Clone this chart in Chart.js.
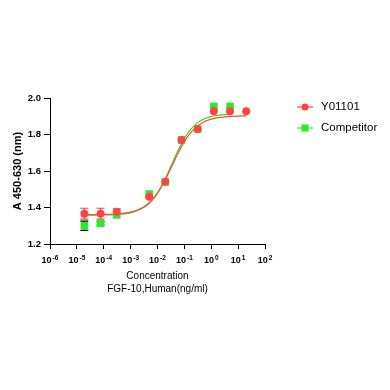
<!DOCTYPE html>
<html>
<head>
<meta charset="utf-8">
<script src="https://cdn.jsdelivr.net/npm/chart.js@4.4.1/dist/chart.umd.min.js"></script>
<style>
  html, body { margin: 0; padding: 0; background: #ffffff; }
  #wrap { width: 390px; height: 390px; }
</style>
</head>
<body>
<div id="wrap"><canvas id="curveChart" width="390" height="390"></canvas></div>
<script>
// ===================================
// DATA
// ===================================

// Concentrations (ng/ml) of the measured points
const CONCENTRATIONS = [1.9e-5, 7.6e-5, 3.05e-4, 4.88e-3, 0.0195, 0.078, 0.3125, 1.25, 5, 20];

// Y01101 measured absorbance and error bar half-heights
const Y01101_VALUES = [1.366, 1.366, 1.377, 1.459, 1.541, 1.770, 1.830, 1.927, 1.927, 1.927];
const Y01101_ERRORS = [0.030, 0.030, 0.015, 0, 0, 0, 0, 0, 0, 0];

// Competitor measured absorbance (no 20 ng/ml point)
const COMPETITOR_VALUES = [1.300, 1.313, 1.359, 1.474, 1.541, 1.770, 1.830, 1.954, 1.954];
const COMPETITOR_ERRORS = [0.025, 0.010, 0, 0, 0, 0, 0, 0, 0];

// Fitted curves, read at log10(concentration) positions
const FIT_LOG_X = [-4.7, -4.5, -4.25, -4, -3.75, -3.5, -3.25, -3, -2.75, -2.5, -2.25, -2,
                   -1.75, -1.5, -1.25, -1, -0.75, -0.5, -0.25, 0, 0.25, 0.5, 0.69, 1, 1.3];
const Y01101_FIT = [1.360, 1.361, 1.361, 1.362, 1.363, 1.365, 1.369, 1.375, 1.386, 1.404, 1.434, 1.479,
                    1.541, 1.616, 1.693, 1.761, 1.813, 1.848, 1.871, 1.884, 1.892, 1.897, 1.899, 1.901, 1.902];
const COMPETITOR_FIT = [1.358, 1.358, 1.359, 1.359, 1.360, 1.362, 1.365, 1.371, 1.382, 1.401, 1.431, 1.479,
                        1.545, 1.626, 1.708, 1.779, 1.831, 1.865, 1.886, 1.899, 1.905, 1.909, 1.911];

// Axis ticks
const X_TICK_EXPONENTS = [-6, -5, -4, -3, -2, -1, 0, 1, 2];
const Y_TICKS = [1.2, 1.4, 1.6, 1.8, 2.0];

const RED = '#ff4444';
const GREEN = '#22ee22';
const FONT = 'Liberation Sans, Arial, sans-serif';

function points(xs, ys) {
    return ys.map((y, i) => ({ x: xs[i], y: y }));
}

// ===================================
// Error bars (drawn below the markers)
// ===================================
const errorBarPlugin = {
    id: 'errorBars',
    beforeDatasetsDraw(chart) {
        const ctx = chart.ctx;
        const xs = chart.scales.x;
        const ys = chart.scales.y;
        const sets = [
            { vals: COMPETITOR_VALUES, errs: COMPETITOR_ERRORS, color: '#000000' },
            { vals: Y01101_VALUES, errs: Y01101_ERRORS, color: RED }
        ];
        ctx.save();
        ctx.lineWidth = 1.2;
        sets.forEach(s => {
            ctx.strokeStyle = s.color;
            s.vals.forEach((v, i) => {
                const e = s.errs[i];
                if (!e) return;
                const px = xs.getPixelForValue(CONCENTRATIONS[i]);
                const top = ys.getPixelForValue(v + e);
                const bot = ys.getPixelForValue(v - e);
                ctx.beginPath();
                ctx.moveTo(px, top); ctx.lineTo(px, bot);
                ctx.moveTo(px - 4, top); ctx.lineTo(px + 4, top);
                ctx.moveTo(px - 4, bot); ctx.lineTo(px + 4, bot);
                ctx.stroke();
            });
        });
        ctx.restore();
    }
};

// ===================================
// X tick labels as 10 with superscript
// ===================================
const powerLabelPlugin = {
    id: 'powerLabels',
    afterDraw(chart) {
        const ctx = chart.ctx;
        const xs = chart.scales.x;
        const baseY = chart.chartArea.bottom + 18.5;
        ctx.save();
        ctx.fillStyle = '#000000';
        ctx.textBaseline = 'alphabetic';
        ctx.textAlign = 'left';
        X_TICK_EXPONENTS.forEach(exp => {
            const px = xs.getPixelForValue(Math.pow(10, exp));
            const expText = exp < 0 ? '-' + Math.abs(exp) : String(exp);
            ctx.font = 'bold 9px ' + FONT;
            const w1 = ctx.measureText('10').width;
            ctx.font = 'bold 6.5px ' + FONT;
            const w2 = ctx.measureText(expText).width;
            const start = px - (w1 + w2 + 1) / 2;
            ctx.font = 'bold 9px ' + FONT;
            ctx.fillText('10', start, baseY);
            ctx.font = 'bold 6.5px ' + FONT;
            ctx.fillText(expText, start + w1 + 1, baseY - 3);
        });
        ctx.restore();
    }
};

// ===================================
// Legend: line with marker, then label
// ===================================
const legendPlugin = {
    id: 'lineLegend',
    afterDraw(chart) {
        const ctx = chart.ctx;
        const items = [
            { label: chart.data.datasets[0].label, color: RED, style: 'circle', y: 107 },
            { label: chart.data.datasets[1].label, color: GREEN, style: 'rect', y: 128 }
        ];
        ctx.save();
        items.forEach(it => {
            ctx.strokeStyle = it.color;
            ctx.fillStyle = it.color;
            ctx.lineWidth = 1.2;
            ctx.beginPath();
            ctx.moveTo(297, it.y); ctx.lineTo(313, it.y);
            ctx.stroke();
            if (it.style === 'circle') {
                ctx.beginPath();
                ctx.arc(305, it.y, 3.5, 0, Math.PI * 2);
                ctx.fill();
            } else {
                ctx.fillRect(301.5, it.y - 3.5, 7, 7);
            }
            ctx.fillStyle = '#000000';
            ctx.font = '11.5px ' + FONT;
            ctx.textBaseline = 'middle';
            ctx.fillText(it.label, 321, it.y);
        });
        ctx.restore();
    }
};

// ===================================
// Build the chart
// ===================================
function initCurveChart() {
    const ctx = document.getElementById('curveChart').getContext('2d');
    const fitX = FIT_LOG_X.map(v => Math.pow(10, v));

    new Chart(ctx, {
        type: 'scatter',
        data: {
            datasets: [
                {
                    label: 'Y01101',
                    data: points(CONCENTRATIONS, Y01101_VALUES),
                    backgroundColor: RED,
                    borderColor: RED,
                    pointStyle: 'circle',
                    pointRadius: 4,
                    borderWidth: 0
                },
                {
                    label: 'Competitor',
                    data: points(CONCENTRATIONS, COMPETITOR_VALUES),
                    backgroundColor: GREEN,
                    borderColor: GREEN,
                    pointStyle: 'rect',
                    pointRadius: 5.3,
                    borderWidth: 0
                },
                {
                    label: 'Y01101 fit',
                    type: 'line',
                    data: points(fitX, Y01101_FIT),
                    borderColor: '#f0502a',
                    borderWidth: 1.2,
                    pointRadius: 0,
                    cubicInterpolationMode: 'monotone',
                    fill: false
                },
                {
                    label: 'Competitor fit',
                    type: 'line',
                    data: points(fitX, COMPETITOR_FIT),
                    borderColor: '#44cc33',
                    borderWidth: 1.2,
                    pointRadius: 0,
                    cubicInterpolationMode: 'monotone',
                    fill: false
                }
            ]
        },
        options: {
            responsive: false,
            animation: false,
            layout: {
                padding: { left: 0, top: 98, right: 125, bottom: 90 }
            },
            plugins: {
                legend: { display: false },
                tooltip: { enabled: false },
                title: { display: false }
            },
            scales: {
                x: {
                    type: 'logarithmic',
                    min: 1e-6,
                    max: 1e2,
                    afterBuildTicks: (scale) => {
                        scale.ticks = X_TICK_EXPONENTS.map(e => ({ value: Math.pow(10, e) }));
                    },
                    afterFit: (scale) => { scale.height = 56; },
                    ticks: { display: false },
                    grid: {
                        drawOnChartArea: false,
                        drawTicks: true,
                        tickLength: 5,
                        color: '#000000',
                        lineWidth: 1
                    },
                    border: { color: '#000000', width: 1 },
                    title: {
                        display: true,
                        text: ['Concentration', 'FGF-10,Human(ng/ml)'],
                        color: '#000000',
                        font: { family: FONT, size: 10, lineHeight: 1.35 },
                        padding: { top: 0, bottom: 4 }
                    }
                },
                y: {
                    type: 'linear',
                    min: 1.2,
                    max: 2.0,
                    afterBuildTicks: (scale) => {
                        scale.ticks = Y_TICKS.map(v => ({ value: v }));
                    },
                    afterFit: (scale) => { scale.width = 50; },
                    ticks: {
                        color: '#000000',
                        padding: 3,
                        font: { family: FONT, size: 9.5, weight: 'bold' },
                        callback: (v) => Number(v).toFixed(1)
                    },
                    grid: {
                        drawOnChartArea: false,
                        drawTicks: true,
                        tickLength: 6,
                        color: '#000000',
                        lineWidth: 1
                    },
                    border: { color: '#000000', width: 1 },
                    title: {
                        display: true,
                        text: 'A 450-630 (nm)',
                        color: '#000000',
                        font: { family: FONT, size: 11, weight: 'bold' },
                        padding: { top: 11, bottom: 0 }
                    }
                }
            }
        },
        plugins: [errorBarPlugin, powerLabelPlugin, legendPlugin]
    });
}

initCurveChart();
</script>
</body>
</html>
